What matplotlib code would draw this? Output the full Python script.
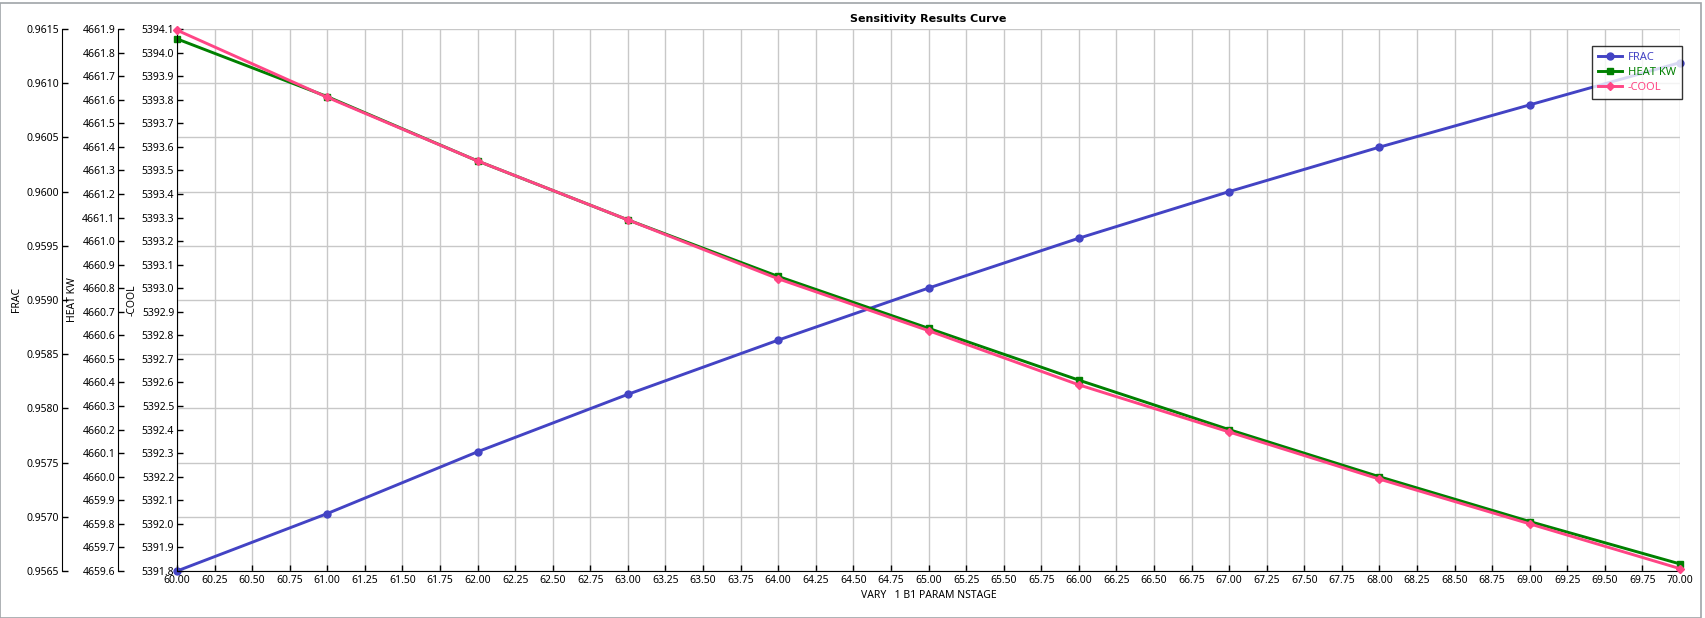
import numpy as np
import matplotlib
matplotlib.use("Agg")
import matplotlib.pyplot as plt
from matplotlib.patches import Rectangle
from matplotlib.ticker import MultipleLocator, FormatStrFormatter

plt.rcParams['font.family'] = ['Noto Sans', 'DejaVu Sans']

# data
nstage = [60, 61, 62, 63, 64, 65, 66, 67, 68, 69, 70]
frac = [0.95650, 0.95703, 0.95760, 0.95813, 0.95863, 0.95911,
        0.95957, 0.96000, 0.96041, 0.96080, 0.96119]
heat_kw = [4661.858, 4661.613, 4661.340, 4661.090, 4660.850, 4660.630,
           4660.410, 4660.200, 4660.000, 4659.810, 4659.630]
cool = [5394.095, 5393.810, 5393.540, 5393.290, 5393.040, 5392.820,
        5392.590, 5392.390, 5392.190, 5392.000, 5391.810]

frac_lim = (0.9565, 0.9615)
heat_lim = (4659.6, 4661.9)
cool_lim = (5391.8, 5394.1)

c_frac = '#4343C4'
c_heat = '#008000'
c_cool = '#FF4585'

W, H = 1706, 618
fig = plt.figure(figsize=(W / 100, H / 100), dpi=100)
left, right, top, bottom = 177, 1680, 29, 571
ax = fig.add_axes([left / W, 1 - bottom / H, (right - left) / W, (bottom - top) / H])
ax_heat = ax.twinx()
ax_cool = ax.twinx()

fs = 7.5
lw = 2.1
ms = 5

l1, = ax.plot(nstage, frac, color=c_frac, lw=lw, marker='o', ms=ms, clip_on=False, zorder=3)
l2, = ax_heat.plot(nstage, heat_kw, color=c_heat, lw=lw, marker='s', ms=ms, clip_on=False, zorder=3)
l3, = ax_cool.plot(nstage, cool, color=c_cool, lw=lw, marker='D', ms=ms - 0.5, clip_on=False, zorder=3)

ax.set_xlim(60, 70)
ax.xaxis.set_major_locator(MultipleLocator(0.25))
ax.xaxis.set_major_formatter(FormatStrFormatter('%.2f'))

ax.set_ylim(*frac_lim)
ax.yaxis.set_major_locator(MultipleLocator(0.0005))
ax.yaxis.set_major_formatter(FormatStrFormatter('%.4f'))
ax_heat.set_ylim(*heat_lim)
ax_heat.yaxis.set_major_locator(MultipleLocator(0.1))
ax_heat.yaxis.set_major_formatter(FormatStrFormatter('%.1f'))
ax_cool.set_ylim(*cool_lim)
ax_cool.yaxis.set_major_locator(MultipleLocator(0.1))
ax_cool.yaxis.set_major_formatter(FormatStrFormatter('%.1f'))

ax.grid(True, color='#c8c8c8', lw=1.0)
ax.set_axisbelow(True)

# stacked left axes
offsets = {ax: (62 - left) / (right - left), ax_heat: (118 - left) / (right - left), ax_cool: 0.0}
for a, off in offsets.items():
    for s in ['top', 'right', 'bottom', 'left']:
        a.spines[s].set_visible(False)
    a.spines['left'].set_visible(True)
    a.spines['left'].set_position(('axes', off))
    a.spines['left'].set_color('black')
    a.yaxis.set_ticks_position('left')
    a.yaxis.set_label_position('left')
    a.tick_params(axis='y', direction='in', length=4, width=1, pad=2, labelsize=fs)
ax.spines['bottom'].set_visible(True)
ax.tick_params(axis='x', direction='in', length=4, width=1, pad=3, labelsize=fs)

ax.set_ylabel('FRAC', fontsize=fs, labelpad=3)
ax_heat.set_ylabel('HEAT KW', fontsize=fs, labelpad=3)
ax_cool.set_ylabel('-COOL', fontsize=fs, labelpad=3)
ax.set_xlabel('VARY   1 B1 PARAM NSTAGE', fontsize=fs, labelpad=3)
ax.set_title('Sensitivity Results Curve', fontsize=fs + 0.5, fontweight='bold',
             family=['DejaVu Sans'], pad=5)

leg = ax_cool.legend([l1, l2, l3], ['FRAC', 'HEAT KW', '-COOL'], loc='upper right',
                     bbox_to_anchor=(1682 / W, 1 - 46 / H), bbox_transform=fig.transFigure,
                     borderaxespad=0, fontsize=fs + 0.5, frameon=True, fancybox=False,
                     handlelength=2.2, handletextpad=0.5, borderpad=0.55, labelspacing=0.35)
leg.get_frame().set_edgecolor('black')
leg.get_frame().set_linewidth(1.0)
for txt, c in zip(leg.get_texts(), [c_frac, c_heat, c_cool]):
    txt.set_color(c)

fig.patches.append(Rectangle((0.5 / W, 0.5 / H), 1 - 5 / W, 1 - 3 / H, transform=fig.transFigure,
                             fill=False, edgecolor='#a0a4a8', lw=1.2))

fig.savefig('out.png', dpi=100)
